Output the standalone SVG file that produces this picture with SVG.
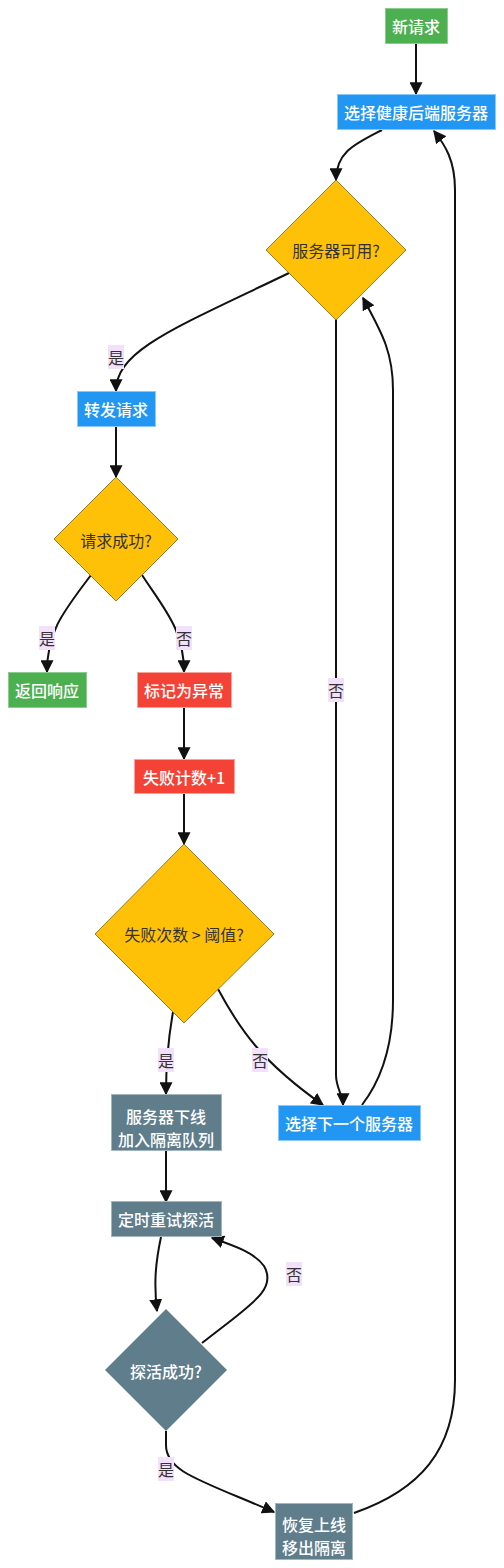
<svg xmlns="http://www.w3.org/2000/svg" width="504" height="1568" viewBox="0 0 504 1568">
<defs>
<marker id="arr" viewBox="0 0 10 10" refX="9" refY="5" markerUnits="userSpaceOnUse" markerWidth="13" markerHeight="13" orient="auto">
<path d="M0,0 L10,5 L0,10 z" fill="#111"/>
</marker>
<style>
text{font-family:"Noto Sans CJK SC","Noto Sans",sans-serif;font-size:16px;text-anchor:middle;dominant-baseline:central}
.w{fill:#fff;font-weight:500}
.d{fill:#333}
.green{fill:#4CAF50;stroke:#8BCB8E;stroke-width:1}
.blue{fill:#2196F3;stroke:#8CC8F8;stroke-width:1}
.red{fill:#F44336;stroke:#F7A39C;stroke-width:1}
.grey{fill:#607D8B;stroke:#A3B5BE;stroke-width:1}
.yel{fill:#FFC107;stroke:#7a6420;stroke-width:0.8}
.gd{fill:#607D8B}
.e{fill:none;stroke:#111;stroke-width:2;marker-end:url(#arr)}
.lb{fill:#F3E0FA}
.lt{fill:#333;font-size:16px}
</style>
</defs>
<g id="edges">
<path class="e" d="M416,43 L416,94"/>
<path class="e" d="M382,130 C355,144 336,152 336,180"/>
<path class="e" d="M289,273 C175,328 116,350 116,391"/>
<path class="e" d="M116,427 L116,477"/>
<path class="e" d="M91,575 C65,610 47,630 47,672"/>
<path class="e" d="M142,575 C165,610 184,630 184,672"/>
<path class="e" d="M184,707 L184,759"/>
<path class="e" d="M184,793 L184,844"/>
<path class="e" d="M173,1012 C168,1040 166,1060 166,1094"/>
<path class="e" d="M218,989 C240,1030 262,1062 323,1105"/>
<path class="e" d="M336,319 L336,1075 C336,1088 343,1095 343,1105"/>
<path class="e" d="M362,1105 C385,1075 393,1040 393,1000 L393,390 C393,350 380,330 363,298"/>
<path class="e" d="M166,1150 L166,1202"/>
<path class="e" d="M161,1237 C155,1265 154,1285 157,1311"/>
<path class="e" d="M202,1343 C250,1305 278,1290 264,1266 C254,1252 232,1245 212,1238"/>
<path class="e" d="M166,1431 L166,1445 C166,1472 200,1480 274,1512"/>
<path class="e" d="M354,1513 C420,1490 455,1450 455,1380 L455,190 C455,160 445,145 434,131"/>
</g>
<g id="labels">
<rect class="lb" x="108" y="345" width="16" height="24"/><text class="lt" x="116" y="357">是</text>
<rect class="lb" x="39" y="626" width="16" height="24"/><text class="lt" x="47" y="638">是</text>
<rect class="lb" x="176" y="626" width="16" height="24"/><text class="lt" x="184" y="638">否</text>
<rect class="lb" x="328" y="678" width="16" height="24"/><text class="lt" x="336" y="690">否</text>
<rect class="lb" x="158" y="1048" width="16" height="24"/><text class="lt" x="166" y="1060">是</text>
<rect class="lb" x="252" y="1048" width="16" height="24"/><text class="lt" x="260" y="1060">否</text>
<rect class="lb" x="286" y="1262" width="16" height="24"/><text class="lt" x="294" y="1274">否</text>
<rect class="lb" x="158" y="1457" width="16" height="24"/><text class="lt" x="166" y="1469">是</text>
</g>
<g id="n_new"><rect class="green" x="385.5" y="8.5" width="62" height="35"/><text class="w" x="416" y="26">新请求</text></g>
<g id="n_select"><rect class="blue" x="337.5" y="94.5" width="158" height="35"/><text class="w" x="416" y="112">选择健康后端服务器</text></g>
<g id="n_avail"><polygon class="yel" points="336,180 406,250 336,320 266,250"/><text class="d" x="336" y="250">服务器可用?</text></g>
<g id="n_forward"><rect class="blue" x="77.5" y="391.5" width="78" height="35"/><text class="w" x="116" y="409">转发请求</text></g>
<g id="n_success"><polygon class="yel" points="116,477 178,539 116,601 54,539"/><text class="d" x="116" y="540">请求成功?</text></g>
<g id="n_return"><rect class="green" x="8.5" y="672.5" width="78" height="35"/><text class="w" x="47" y="690">返回响应</text></g>
<g id="n_mark"><rect class="red" x="137.5" y="672.5" width="94" height="35"/><text class="w" x="184" y="690">标记为异常</text></g>
<g id="n_count"><rect class="red" x="134.5" y="759.5" width="100" height="34"/><text class="w" x="184" y="777">失败计数+1</text></g>
<g id="n_thresh"><polygon class="yel" points="184,844 274,934 184,1023 95,934"/><text class="d" x="184" y="934">失败次数 &gt; 阈值?</text></g>
<g id="n_next"><rect class="blue" x="278.5" y="1105.5" width="142" height="35"/><text class="w" x="349" y="1123">选择下一个服务器</text></g>
<g id="n_offline"><rect class="grey" x="111.5" y="1094.5" width="110" height="56"/><text class="w" x="166" y="1116">服务器下线</text><text class="w" x="166" y="1139">加入隔离队列</text></g>
<g id="n_retry"><rect class="grey" x="111.5" y="1201.5" width="110" height="35"/><text class="w" x="166" y="1219">定时重试探活</text></g>
<g id="n_probe"><polygon class="gd" points="166,1309 227,1370 166,1431 105,1370"/><text class="w" x="166" y="1371">探活成功?</text></g>
<g id="n_recover"><rect class="grey" x="275.5" y="1503.5" width="77" height="56"/><text class="w" x="314" y="1524">恢复上线</text><text class="w" x="314" y="1547">移出隔离</text></g>
</svg>
